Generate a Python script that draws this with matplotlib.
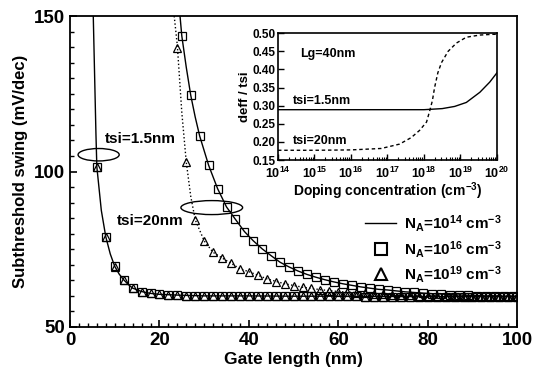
import matplotlib
matplotlib.use("Agg")
import matplotlib.pyplot as plt
from matplotlib.lines import Line2D
from matplotlib.patches import Ellipse
from matplotlib.ticker import MultipleLocator, FixedLocator, FixedFormatter, LogLocator, NullFormatter

plt.rcParams['font.family'] = ['Liberation Sans', 'DejaVu Sans']
plt.rcParams['font.weight'] = 'bold'
plt.rcParams['mathtext.fontset'] = 'custom'
plt.rcParams['mathtext.rm'] = 'Liberation Sans:bold'
plt.rcParams['mathtext.bf'] = 'Liberation Sans:bold'
plt.rcParams['mathtext.it'] = 'Liberation Sans:bold'
plt.rcParams['mathtext.default'] = 'bf'

# ---------------- main chart data ----------------
# tsi = 1.5 nm
t15_x = [6, 8, 10, 12, 14, 16, 18, 20, 22, 24, 26, 28, 30, 32, 34, 36, 38, 40,
         42, 44, 46, 48, 50, 52, 54, 56, 58, 60, 62, 64, 66, 68, 70, 72, 74, 76,
         78, 80, 82, 84, 86, 88, 90, 92, 94, 96, 98, 100]
t15_n16 = [101.5, 79.0, 69.5, 65.2, 62.5, 61.4, 60.8, 60.5, 60.3, 60.2, 60.1, 60.1,
           60.0, 60.0, 60.0, 60.0, 60.0, 60.0, 59.9, 59.9, 59.9, 59.9, 59.9, 59.9,
           59.9, 59.9, 59.9, 59.9, 59.9, 59.9, 59.8, 59.8, 59.8, 59.8, 59.8, 59.8,
           59.8, 59.8, 59.8, 59.8, 59.8, 59.8, 59.8, 59.8, 59.8, 59.8, 59.8, 59.8]
t15_n19 = [101.3, 78.8, 69.4, 65.1, 62.5, 61.4, 60.8, 60.5, 60.3, 60.2, 60.1, 60.1,
           60.0, 60.0, 60.0, 60.0, 60.0, 60.0, 59.9, 59.9, 59.9, 59.9, 59.9, 59.9,
           59.9, 59.9, 59.9, 59.9, 59.9, 59.9, 59.8, 59.8, 59.8, 59.8, 59.8, 59.8,
           59.8, 59.8, 59.8, 59.8, 59.8, 59.8, 59.8, 59.8, 59.8, 59.8, 59.8, 59.8]
t15_line_x = [5.2, 5.5, 5.8, 6, 7, 8, 9, 10, 11, 12, 13, 14, 16, 18, 20, 25, 30,
              40, 50, 60, 70, 80, 90, 100]
t15_line_y = [150, 131, 112, 101.5, 87.5, 79, 73.5, 69.5, 67.0, 65.2, 63.7, 62.5,
              61.4, 60.8, 60.5, 60.2, 60.0, 60.0, 59.9, 59.9, 59.8, 59.8, 59.8, 59.8]

# tsi = 20 nm, NA = 1e16 (squares) and 1e14 (solid line)
t20_sq_x = [25, 27, 29, 31, 33, 35, 37, 39, 41, 43, 45, 47, 49, 51, 53, 55, 57,
            59, 61, 63, 65, 67, 69, 71, 73, 75, 77, 79, 81, 83, 85, 87, 89, 91,
            93, 95, 97, 99]
t20_sq_y = [143.6, 124.5, 111.4, 102.0, 94.5, 88.6, 84.6, 80.7, 77.7, 75.1, 72.9,
            70.8, 69.3, 68.0, 66.9, 66.0, 65.2, 64.5, 63.9, 63.4, 62.9, 62.5, 62.1,
            61.9, 61.6, 61.3, 61.1, 60.9, 60.7, 60.6, 60.4, 60.3, 60.2, 60.1, 60.0,
            60.0, 59.9, 59.9]
t20_line_x = [24.6, 25, 26, 27, 28, 29, 31, 33, 35, 37, 39, 41, 43, 45, 47, 49, 51,
              53, 55, 57, 59, 61, 63, 65, 67, 69, 71, 73, 75, 77, 79, 81, 83, 85,
              87, 89, 91, 93, 95, 97, 99, 100]
t20_line_y = [150, 143.6, 133.5, 124.5, 117.5, 111.4, 102.0, 94.5, 88.6, 84.6, 80.7,
              77.7, 75.1, 72.9, 70.8, 69.3, 68.0, 66.9, 66.0, 65.2, 64.5, 63.9, 63.4,
              62.9, 62.5, 62.1, 61.9, 61.6, 61.3, 61.1, 60.9, 60.7, 60.6, 60.4, 60.3,
              60.2, 60.1, 60.0, 60.0, 59.9, 59.9, 59.9]

# tsi = 20 nm, NA = 1e19 (triangles, dotted line)
t20_tr_x = [24, 26, 28, 30, 32, 34, 36, 38, 40, 42, 44, 46, 48, 50, 52, 54, 56, 58,
            60, 62, 64, 66, 68, 70, 72, 74, 76, 78, 80, 82, 84, 86, 88, 90, 92, 94,
            96, 98, 100]
t20_tr_y = [139.7, 103.0, 84.5, 77.7, 74.0, 72.2, 70.5, 68.7, 67.8, 66.6, 65.5,
            64.6, 63.9, 63.3, 62.8, 62.4, 62.0, 61.7, 61.4, 61.2, 61.0, 60.8, 60.7,
            60.5, 60.4, 60.3, 60.2, 60.1, 60.1, 60.0, 60.0, 60.0, 59.9, 59.9, 59.9,
            59.9, 59.9, 59.9, 59.9]
t20_dot_x = [23.3, 24, 25, 26, 27, 28, 30, 32, 34, 36, 38, 40, 44, 48, 52, 56, 60,
             70, 80, 90, 100]
t20_dot_y = [150, 140.5, 119.0, 103.0, 92.0, 84.5, 77.7, 74.0, 72.2, 70.5, 68.7,
             67.8, 65.5, 63.9, 62.8, 62.0, 61.4, 60.5, 60.1, 59.9, 59.9]

legend_labels = [r'N$_{A}$=10$^{14}$ cm$^{-3}$', r'N$_{A}$=10$^{16}$ cm$^{-3}$',
                 r'N$_{A}$=10$^{19}$ cm$^{-3}$']

# ---------------- inset data ----------------
in_log_sol = [14, 15, 16, 17, 18, 18.5, 18.84, 19.16, 19.53, 19.8, 20]
in_sol = [0.289, 0.289, 0.289, 0.289, 0.289, 0.292, 0.298, 0.309, 0.337, 0.365, 0.391]
in_log_dash = [14.0, 15, 16, 16.83, 17.33, 17.65, 17.88, 18.07, 18.16, 18.23, 18.29,
               18.38, 18.48, 18.66, 18.89, 19.16, 19.53, 19.89, 20]
in_dash = [0.177, 0.177, 0.178, 0.182, 0.194, 0.212, 0.232, 0.255, 0.287, 0.314,
           0.35, 0.391, 0.419, 0.45, 0.473, 0.489, 0.495, 0.497, 0.497]
in_xtick_exp = [14, 15, 16, 17, 18, 19, 20]
in_xtick_labels = [r'10$^{14}$', r'10$^{15}$', r'10$^{16}$', r'10$^{17}$',
                   r'10$^{18}$', r'10$^{19}$', r'10$^{20}$']
in_ytick = [0.15, 0.20, 0.25, 0.30, 0.35, 0.40, 0.45, 0.50]
in_ytick_labels = ['0.15', '0.20', '0.25', '0.30', '0.35', '0.40', '0.45', '0.50']

# ---------------- figure ----------------
fig = plt.figure(figsize=(5.44, 3.82), dpi=100)
ax = fig.add_axes([0.1287, 0.144, 0.822, 0.814])

lw = 1.0
ax.plot(t15_line_x, t15_line_y, '-', color='black', lw=lw)
ax.plot(t15_x, t15_n19, linestyle='none', marker='^', ms=6, mfc='none', mec='black', mew=0.9)
ax.plot(t15_x, t15_n16, linestyle='none', marker='s', ms=6, mfc='none', mec='black', mew=0.9)
ax.plot(t20_line_x, t20_line_y, '-', color='black', lw=lw)
ax.plot(t20_sq_x, t20_sq_y, linestyle='none', marker='s', ms=6, mfc='none', mec='black', mew=0.9)
ax.plot(t20_dot_x, t20_dot_y, ':', color='black', lw=lw)
ax.plot(t20_tr_x, t20_tr_y, linestyle='none', marker='^', ms=6, mfc='none', mec='black', mew=0.9)

ax.set_xlim(0, 100)
ax.set_ylim(50, 150)
ax.xaxis.set_major_locator(MultipleLocator(20))
ax.xaxis.set_minor_locator(MultipleLocator(2))
ax.yaxis.set_major_locator(MultipleLocator(50))
ax.yaxis.set_minor_locator(MultipleLocator(5))
ax.tick_params(which='both', direction='in', top=False, right=False)
ax.tick_params(which='major', length=5, width=1.2, labelsize=13.5)
ax.tick_params(which='minor', length=3, width=1.0)
for s in ax.spines.values():
    s.set_linewidth(1.3)
ax.set_xlabel('Gate length (nm)', fontsize=12.5, fontweight='bold', labelpad=2)
ax.set_ylabel('Subthreshold swing (mV/dec)', fontsize=12, fontweight='bold', labelpad=4)

# annotations
ax.add_patch(Ellipse((6.4, 105.4), 9.2, 4.0, fill=False, ec='black', lw=1.0))
ax.text(7.8, 110.3, 'tsi=1.5nm', fontsize=11, fontweight='bold', va='center', ha='left')
ax.add_patch(Ellipse((31.7, 88.4), 13.8, 4.5, fill=False, ec='black', lw=1.0))
ax.text(10.5, 84.2, 'tsi=20nm', fontsize=11, fontweight='bold', va='center', ha='left')

handles = [Line2D([], [], color='black', lw=1.0),
           Line2D([], [], linestyle='none', marker='s', ms=9, mfc='none', mec='black', mew=1.5),
           Line2D([], [], linestyle='none', marker='^', ms=9, mfc='none', mec='black', mew=1.5)]
leg = ax.legend(handles, legend_labels, loc='lower right', bbox_to_anchor=(0.985, 0.105),
                frameon=False, fontsize=11, handlelength=2.0, handletextpad=0.5,
                labelspacing=0.3, borderaxespad=0.2)

# ---------------- inset ----------------
ins = fig.add_axes([0.511, 0.581, 0.4026, 0.332])
ins.plot([10.0 ** e for e in in_log_sol], in_sol, '-', color='black', lw=1.0)
ins.plot([10.0 ** e for e in in_log_dash], in_dash, '--', color='black', lw=1.0,
         dashes=(2.5, 2))
ins.set_xscale('log')
ins.set_xlim(1e14, 1e20)
ins.set_ylim(0.15, 0.50)
ins.xaxis.set_major_locator(FixedLocator([10.0 ** e for e in in_xtick_exp]))
ins.xaxis.set_major_formatter(FixedFormatter(in_xtick_labels))
ins.xaxis.set_minor_locator(LogLocator(base=10, subs=[2, 3, 4, 5, 6, 7, 8, 9], numticks=20))
ins.xaxis.set_minor_formatter(NullFormatter())
ins.yaxis.set_major_locator(FixedLocator(in_ytick))
ins.yaxis.set_major_formatter(FixedFormatter(in_ytick_labels))
ins.tick_params(which='both', direction='in', top=False, right=False)
ins.tick_params(axis='y', labelsize=8.5, pad=2)
ins.tick_params(axis='x', labelsize=9, pad=4)
ins.tick_params(which='major', length=4, width=1.0)
ins.tick_params(which='minor', length=2, width=0.8)
for s in ins.spines.values():
    s.set_linewidth(1.2)
ins.set_xlabel(r'Doping concentration (cm$^{-3}$)', fontsize=10, fontweight='bold', labelpad=0)
ins.set_ylabel('deff / tsi', fontsize=9.5, fontweight='bold', labelpad=1)
ins.text(10 ** 14.6, 0.443, 'Lg=40nm', fontsize=9, fontweight='bold', va='center')
ins.text(10 ** 14.4, 0.314, 'tsi=1.5nm', fontsize=9, fontweight='bold', va='center')
ins.text(10 ** 14.4, 0.203, 'tsi=20nm', fontsize=9, fontweight='bold', va='center')

fig.savefig('out.png', dpi=100)
